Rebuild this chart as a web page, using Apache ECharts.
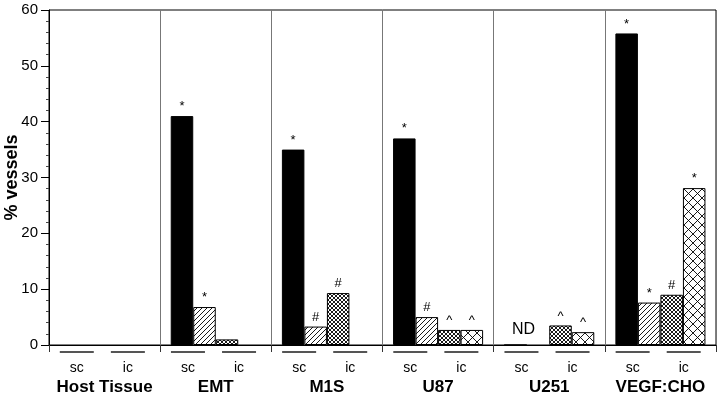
<!DOCTYPE html>
<html>
<head>
<meta charset="utf-8">
<script src="https://cdn.jsdelivr.net/npm/echarts@6/dist/echarts.min.js"></script>
<style>html,body{margin:0;padding:0;background:#fff}#c{width:720px;height:400px}</style>
</head>
<body>
<div id="c"></div>
<script>
const groups = ['Host Tissue', 'EMT', 'M1S', 'U87', 'U251', 'VEGF:CHO'];
const subLabels = ['sc', 'ic', 'sc', 'ic', 'sc', 'ic', 'sc', 'ic', 'sc', 'ic', 'sc', 'ic'];
const yTicks = [0, 10, 20, 30, 40, 50, 60];

const scSolid = [null, 41, 35, 37, 0, 55.8];
const scHatched = [null, 6.8, 3.3, 5.0, null, 7.6];
const icDense = [null, 1.0, 9.3, 2.7, 3.5, 9.0];
const icOpen = [null, null, null, 2.7, 2.3, 28.1];

const scSolidMarks = ['', '*', '*', '*', 'ND', '*'];
const scHatchedMarks = ['', '*', '#', '#', '', '*'];
const icDenseMarks = ['', '', '#', '^', '^', '#'];
const icOpenMarks = ['', '', '', '^', '^', '*'];

function makePattern(size, type) {
  const c = document.createElement('canvas');
  c.width = size; c.height = size;
  const ctx = c.getContext('2d');
  ctx.fillStyle = '#fff';
  ctx.fillRect(0, 0, size, size);
  ctx.strokeStyle = '#000';
  ctx.lineWidth = 0.9;
  function line(x1, y1, x2, y2) { ctx.beginPath(); ctx.moveTo(x1, y1); ctx.lineTo(x2, y2); ctx.stroke(); }
  line(-size, size, size, -size); line(0, size, size, 0); line(0, 2 * size, 2 * size, 0);
  if (type === 'cross') {
    line(-size, 0, size, 2 * size); line(0, 0, size, size); line(0, -size, 2 * size, size);
  }
  return { image: c, repeat: 'repeat' };
}

const patDiag = makePattern(5, 'diag');
const patDense = makePattern(4, 'cross');
const patOpen = makePattern(9, 'cross');

function barSeries(name, data, color, marks) {
  return {
    name, type: 'bar', data, barGap: '0%', barCategoryGap: '19%',
    itemStyle: { color, borderColor: '#000', borderWidth: 1 },
    label: {
      show: true, position: 'top', distance: 3, color: '#000',
      fontFamily: 'Liberation Sans', fontSize: 13,
      formatter: p => {
        const m = marks[p.dataIndex] || '';
        return m === 'ND' ? '{nd|ND}' : m;
      },
      rich: { nd: { fontSize: 16, fontFamily: 'Liberation Sans', color: '#000', padding: [0, 0, 4, 16] } }
    },
    emphasis: { disabled: true },
    animation: false
  };
}

const chart = echarts.init(document.getElementById('c'), null, { renderer: 'canvas' });
chart.setOption({
  animation: false,
  grid: { left: 49, right: 4, top: 10, bottom: 55, containLabel: false, outerBoundsMode: 'none', show: true, borderColor: '#000', borderWidth: 1, backgroundColor: 'transparent' },
  xAxis: [{
    type: 'category', data: groups, position: 'bottom',
    axisLine: { lineStyle: { color: '#000', width: 1 } },
    axisTick: { show: true, length: 7, lineStyle: { color: '#333' } },
    splitLine: { show: true, interval: 0, lineStyle: { color: '#777', width: 1 } },
    axisLabel: { interval: 0, margin: 34, color: '#000', fontFamily: 'Liberation Sans', fontWeight: 'bold', fontSize: 17, lineHeight: 17 }
  }, {
    type: 'category', data: subLabels, position: 'bottom',
    axisLine: { show: false }, axisTick: { show: false }, splitLine: { show: false },
    axisLabel: {
      interval: 0, margin: 6,
      formatter: v => v === 'ic'
        ? '{ln| }{sp| }\n{t|' + v + '}{sp| }'
        : '{ln| }\n{t|' + v + '}',
      rich: {
        ln: { width: 34, height: 2, lineHeight: 2, fontSize: 2, backgroundColor: '#555' },
        sp: { width: 9, height: 2, lineHeight: 2, fontSize: 2 },
        t: { fontFamily: 'Liberation Sans', fontSize: 14, lineHeight: 30, color: '#000' }
      }
    }
  }],
  yAxis: {
    type: 'value', min: yTicks[0], max: yTicks[yTicks.length - 1], interval: 10,
    name: '% vessels', nameLocation: 'middle', nameGap: 28, nameMoveOverlap: false,
    nameTextStyle: { fontFamily: 'Liberation Sans', fontWeight: 'bold', fontSize: 18, color: '#000' },
    axisLine: { show: true, lineStyle: { color: '#000' } },
    axisTick: { show: true, length: 8, lineStyle: { color: '#000' } },
    minorTick: { show: true, splitNumber: 5, length: 3, lineStyle: { color: '#444' } },
    splitLine: { show: false },
    axisLabel: { margin: 11, color: '#000', fontFamily: 'Liberation Sans', fontSize: 15 }
  },
  series: [
    barSeries('scSolid', scSolid, '#000', scSolidMarks),
    barSeries('scHatched', scHatched, patDiag, scHatchedMarks),
    barSeries('icDense', icDense, patDense, icDenseMarks),
    barSeries('icOpen', icOpen, patOpen, icOpenMarks)
  ]
});
</script>
</body>
</html>
